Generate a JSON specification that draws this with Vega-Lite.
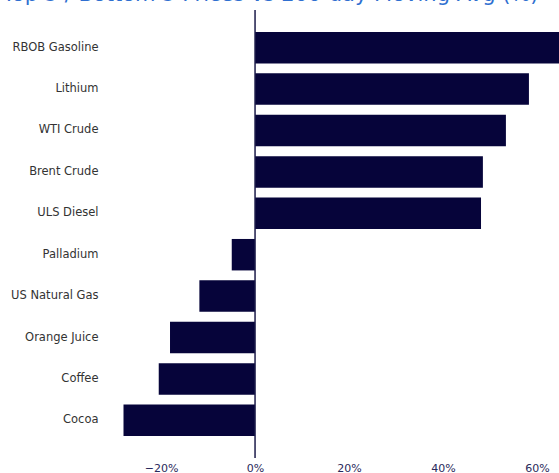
{
  "$schema": "https://vega.github.io/schema/vega-lite/v6.json",
  "autosize": "none",
  "width": 451,
  "height": 448,
  "padding": {"left": 108, "top": 10, "right": 0, "bottom": 15},
  "background": "white",
  "title": {
    "text": "Top 5 / Bottom 5 Prices vs 200-day Moving Avg (%)",
    "anchor": "start",
    "frame": "bounds",
    "color": "#2f6fd0",
    "font": "DejaVu Sans",
    "fontSize": 21,
    "fontWeight": "normal",
    "offset": 4,
    "dx": -8
  },
  "config": {"view": {"stroke": null}},
  "data": {
    "values": [
      {"commodity": "RBOB Gasoline", "pct": 66.0},
      {"commodity": "Lithium", "pct": 58.3},
      {"commodity": "WTI Crude", "pct": 53.4},
      {"commodity": "Brent Crude", "pct": 48.5},
      {"commodity": "ULS Diesel", "pct": 48.1},
      {"commodity": "Palladium", "pct": -4.96},
      {"commodity": "US Natural Gas", "pct": -11.85},
      {"commodity": "Orange Juice", "pct": -18.1},
      {"commodity": "Coffee", "pct": -20.5},
      {"commodity": "Cocoa", "pct": -28.0}
    ]
  },
  "layer": [
    {
      "mark": {"type": "bar", "color": "#06043a", "clip": true},
      "encoding": {
        "y": {
          "field": "commodity",
          "type": "nominal",
          "sort": null,
          "scale": {"paddingInner": 0.24, "paddingOuter": 0.53},
          "axis": {
            "title": null,
            "ticks": false,
            "domain": false,
            "grid": false,
            "labelPadding": 10,
            "labelFont": "DejaVu Sans",
            "labelFontSize": 11.5,
            "labelColor": "#333333"
          }
        },
        "x": {
          "field": "pct",
          "type": "quantitative",
          "scale": {"domain": [-31.3, 64.7], "nice": false, "zero": false},
          "axis": {
            "title": null,
            "values": [-20, 0, 20, 40, 60],
            "labelExpr": "replace(format(datum.value, 'd'), '-', '\u2212') + '%'",
            "ticks": false,
            "domain": false,
            "grid": false,
            "labelPadding": 4,
            "labelFont": "DejaVu Sans",
            "labelFontSize": 11,
            "labelColor": "#2a2a5c"
          }
        }
      }
    },
    {
      "data": {"values": [{"x": 0}]},
      "mark": {"type": "rule", "color": "#1c1b4a", "strokeWidth": 1.5},
      "encoding": {"x": {"field": "x", "type": "quantitative"}}
    }
  ]
}
